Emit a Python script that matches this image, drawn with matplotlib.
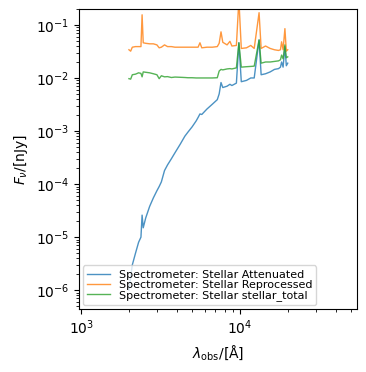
import numpy as np
import matplotlib
matplotlib.use("Agg")
import matplotlib.pyplot as plt

# observed wavelength grid [Angstrom]
wavelength = [2000, 2050, 2100, 2200, 2300, 2380, 2420, 2460, 2550, 2700,
              2850, 3000, 3100, 3200, 3350, 3500, 3700, 3900, 4200, 4500,
              4700, 5000, 5300, 5450, 5600, 5750, 6200, 6700, 7200, 7400,
              7600, 7800, 8300, 8650, 8900, 9500, 9850, 10200, 11000, 11700,
              12300, 13200, 13600, 14500, 15500, 16500, 17500, 18000, 18300, 18700,
              19200, 19600, 20000]

attenuated = [1.0e-6, 1.8e-6, 3.0e-6, 5.0e-6, 8.0e-6, 1.0e-5, 2.6e-5, 1.5e-5, 2.3e-5, 3.8e-5,
              5.5e-5, 7.5e-5, 9.0e-5, 1.1e-4, 1.8e-4, 2.3e-4, 3.0e-4, 3.9e-4, 5.6e-4, 8.0e-4,
              9.5e-4, 1.2e-3, 1.55e-3, 1.8e-3, 2.1e-3, 2.05e-3, 2.6e-3, 3.2e-3, 3.9e-3, 5.0e-3,
              8.2e-3, 6.6e-3, 7.0e-3, 7.6e-3, 7.2e-3, 8.0e-3, 4.6e-2, 8.5e-3, 9.0e-3, 1.0e-2,
              1.0e-2, 5.2e-2, 1.15e-2, 1.2e-2, 1.3e-2, 1.45e-2, 1.5e-2, 1.6e-2, 2.0e-2, 1.6e-2,
              3.9e-2, 1.7e-2, 1.9e-2]

reprocessed = [0.034, 0.032, 0.038, 0.039, 0.039, 0.039, 0.155, 0.046, 0.045, 0.044,
               0.044, 0.042, 0.037, 0.038, 0.042, 0.039, 0.039, 0.038, 0.038, 0.038,
               0.038, 0.038, 0.038, 0.038, 0.046, 0.037, 0.038, 0.038, 0.039, 0.045,
               0.074, 0.047, 0.042, 0.049, 0.040, 0.041, 0.30, 0.036, 0.037, 0.041,
               0.036, 0.17, 0.036, 0.040, 0.036, 0.034, 0.033, 0.034, 0.048, 0.034,
               0.085, 0.032, 0.034]

stellar_total = [0.0097, 0.0095, 0.0115, 0.0118, 0.0125, 0.0122, 0.0105, 0.013, 0.0128, 0.0125,
                 0.012, 0.0115, 0.0097, 0.011, 0.0105, 0.0106, 0.0102, 0.0104, 0.0103, 0.0102,
                 0.0101, 0.0101, 0.0100, 0.0100, 0.0100, 0.0100, 0.0100, 0.0100, 0.0101, 0.0135,
                 0.0145, 0.0142, 0.0148, 0.0150, 0.0148, 0.0155, 0.046, 0.0160, 0.0163, 0.0165,
                 0.0167, 0.052, 0.019, 0.020, 0.020, 0.0205, 0.021, 0.022, 0.027, 0.023,
                 0.042, 0.024, 0.025]

fig = plt.figure(figsize=(3.66, 3.72), dpi=100)
ax = fig.add_axes([0.216, 0.169, 0.759, 0.807])

ax.loglog(wavelength, attenuated, lw=1, alpha=0.8, label='Spectrometer: Stellar Attenuated')
ax.loglog(wavelength, reprocessed, lw=1, alpha=0.8, label='Spectrometer: Stellar Reprocessed')
ax.loglog(wavelength, stellar_total, lw=1, alpha=0.8, label='Spectrometer: Stellar stellar_total')

ax.set_xlim(970, 54500)
ax.set_ylim(4.4e-7, 0.2)
ax.set_xlabel(r'$\lambda_\mathrm{obs}/[\mathrm{\AA}]$')
ax.set_ylabel(r'$F_{\nu}/[\mathrm{nJy}]$')
ax.legend(loc='lower left', fontsize=8, handlelength=2, labelspacing=0.0,
          borderpad=0.4, borderaxespad=0.35)

fig.savefig('out.png', dpi=100)
